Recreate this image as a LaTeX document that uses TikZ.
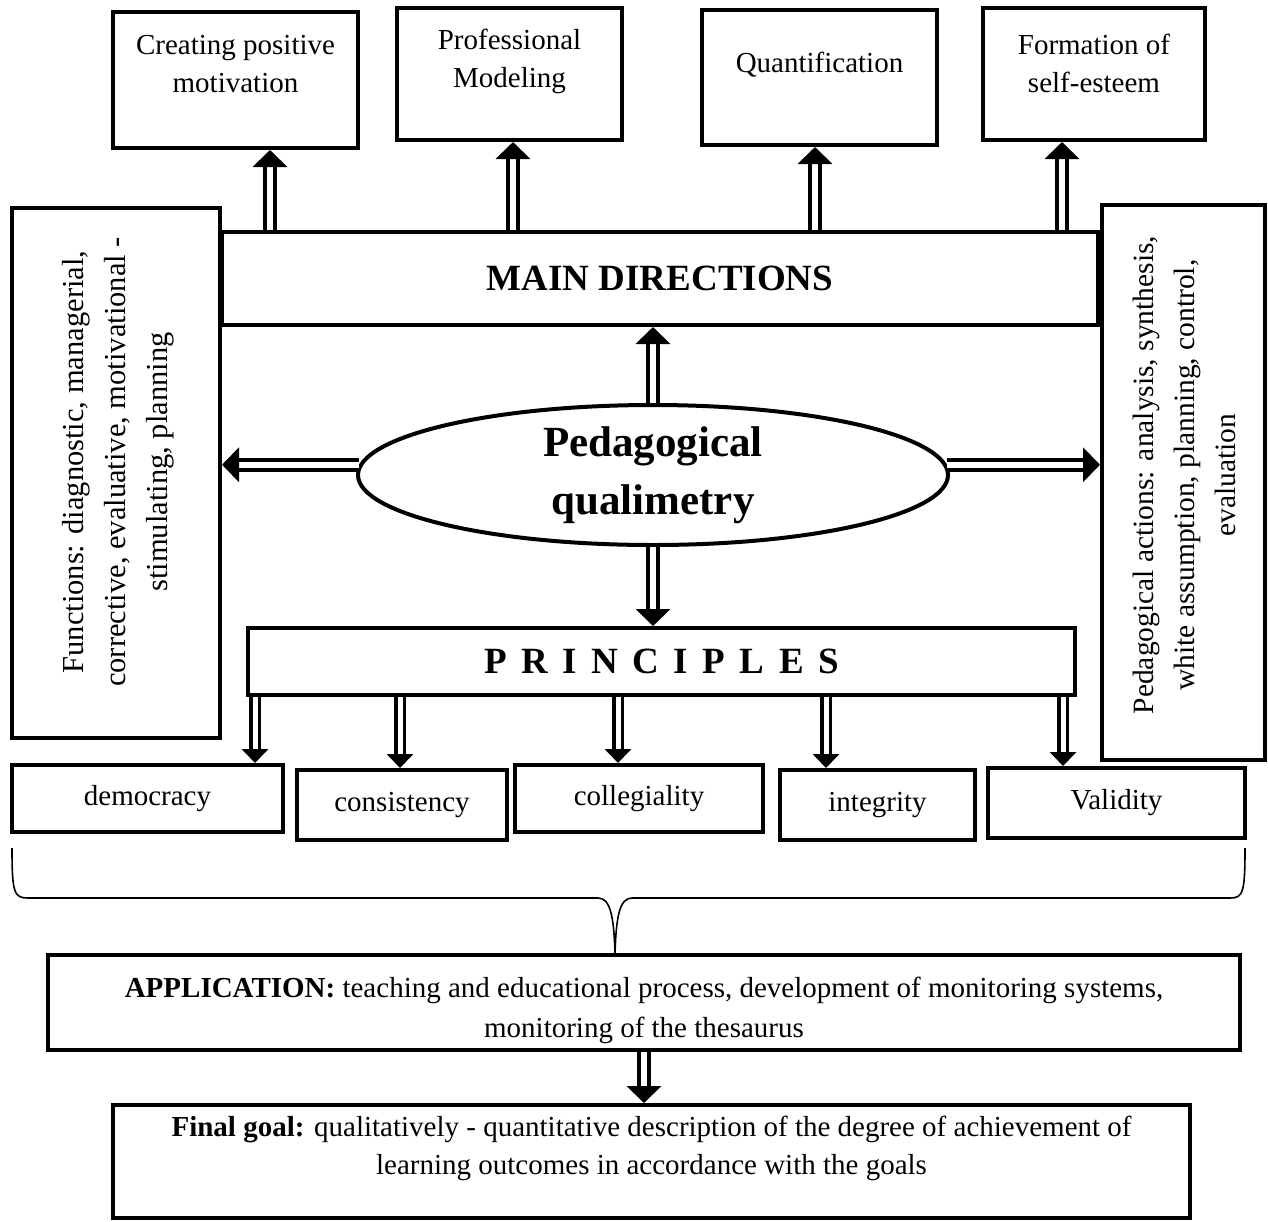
\documentclass[tikz,border=0pt]{standalone}
\usepackage{fontspec}
\setmainfont{Liberation Serif}
\usetikzlibrary{positioning,arrows.meta,shapes.geometric,calc}

\begin{document}
\begin{tikzpicture}[x=1pt, y=-1pt,
  box/.style={rectangle, draw=black, line width=4pt, inner sep=0pt, align=center, font=\fontsize{29}{38}\selectfont},
  txt/.style={align=center, inner sep=0pt, font=\fontsize{29}{38}\selectfont},
  title/.style={font=\fontsize{37}{44}\selectfont\bfseries},
  spaced/.style={font={\fontsize{37}{44}\selectfont\bfseries\spaceskip=14.5pt}},
  dblarrow/.style={draw=black, double=white, double distance=6pt, line width=4pt, -{Triangle[width=34pt,length=17pt]}},
  smallarrow/.style={draw=black, double=white, double distance=5pt, line width=3.5pt, -{Triangle[width=26pt,length=14pt]}}
]
\useasboundingbox (0,0) rectangle (1268,1221);

% Top row
\node[box, minimum width=245pt, minimum height=136pt] (cpm) at (235.5,80) {};
\node[txt] (cpmtxt) at (235.5,64) {Creating positive\\motivation};
\node[box, minimum width=225pt, minimum height=132pt] (prof) at (509.5,74) {};
\node[txt] (proftxt) at (509.5,61) {Professional\\Modeling};
\node[box, minimum width=235pt, minimum height=135pt] (quant) at (819.5,77.5) {};
\node[txt] (quanttxt) at (819.5,65) {Quantification};
\node[box, minimum width=222pt, minimum height=132pt] (self) at (1094,74) {};
\node[txt] (selftxt) at (1094,63) {Formation of\\self-esteem};

% Middle
\node[box, title, minimum width=876pt, minimum height=93pt] (main) at (660,278.5) {MAIN DIRECTIONS};
\node[box, minimum width=208pt, minimum height=530pt] (funcs) at (116,473) {};
\node[txt, rotate=90, font=\fontsize{30.5}{42}\selectfont] (funcstxt) at (118,462)
  {Functions: diagnostic, managerial,\\corrective, evaluative, motivational -\\stimulating, planning};
\node[box, minimum width=163pt, minimum height=555pt] (acts) at (1183.5,482.5) {};
\node[txt, rotate=90, font=\fontsize{29.5}{41}\selectfont] (actstxt) at (1184,475)
  {Pedagogical actions: analysis, synthesis,\\white assumption, planning, control,\\evaluation};
\node[ellipse, draw=black, line width=4pt, inner sep=0pt, minimum width=590pt, minimum height=140pt,
  align=center, font=\fontsize{43}{58}\selectfont\bfseries] (qual) at (653,475) {Pedagogical\\qualimetry};

% Principles
\node[box, spaced, minimum width=827pt, minimum height=67pt] (princ) at (661.5,661.5) {P R I N C I P L E S};
\node[box, minimum width=271pt, minimum height=67pt] (demo) at (147.5,798.5) {democracy};
\node[box, minimum width=210pt, minimum height=70pt] (cons) at (402,805) {consistency};
\node[box, minimum width=248pt, minimum height=67pt] (coll) at (639,798.5) {collegiality};
\node[box, minimum width=195pt, minimum height=70pt] (integ) at (877.5,805) {integrity};
\node[box, minimum width=257pt, minimum height=70pt] (valid) at (1116.5,803) {Validity};

% Bottom
\node[box, minimum width=1192pt, minimum height=95pt] (appl) at (644,1002.5) {};
\node[txt, font=\fontsize{29}{40}\selectfont] (appltxt) at (644,1010)
  {\textbf{APPLICATION:} teaching and educational process, development of monitoring systems,\\monitoring of the thesaurus};
\node[box, minimum width=1077pt, minimum height=113pt] (goal) at (651.5,1161.5) {};
\node[txt] (goaltxt) at (651.5,1148)
  {\textbf{Final goal:} qualitatively - quantitative description of the degree of achievement of\\learning outcomes in accordance with the goals};

% Brace
\draw[line width=1.6pt] (12,848) .. controls (12,893) and (14,898) .. (28,898) -- (598,898)
  .. controls (610,898) and (614,915) .. (615,955)
  .. controls (616,915) and (620,898) .. (632,898) -- (1230,898)
  .. controls (1243,898) and (1245,893) .. (1245,848);

% Arrows
\foreach \bx/\dx in {cpm/34.5, prof/3.5, quant/-4.5, self/-32}
  \draw[dblarrow] ($(\bx.south |- main.north)+(\dx,0)$) -- ($(\bx.south)+(\dx,0)$);
\draw[dblarrow] (qual.north) -- (qual.north |- main.south);
\draw[dblarrow] (qual.178) -- (qual.178 -| funcs.east);
\draw[dblarrow] (qual.2) -- (qual.2 -| acts.west);
\draw[dblarrow] (qual.south) -- (qual.south |- princ.north);
\foreach \bx/\dx in {demo/107.5, cons/-2, coll/-21, integ/-51.5, valid/-53.5}
  \draw[smallarrow] ($(\bx.north |- princ.south)+(\dx,0)$) -- ($(\bx.north)+(\dx,0)$);
\draw[dblarrow] (appl.south) -- (appl.south |- goal.north);

\end{tikzpicture}
\end{document}
